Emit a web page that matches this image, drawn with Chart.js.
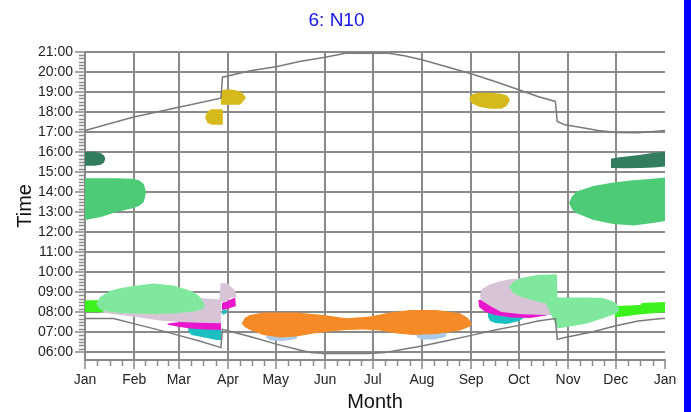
<!DOCTYPE html>
<html>
<head>
<meta charset="utf-8">
<script src="https://cdn.jsdelivr.net/npm/chart.js@4.4.0/dist/chart.umd.min.js"></script>
<style>
  html, body { margin: 0; padding: 0; background: #fff; }
  #wrap { position: relative; width: 691px; height: 412px; }
  #edge { position: absolute; right: 0; top: 0; width: 7px; height: 412px; background: #0000ff; }
</style>
</head>
<body>
<div id="wrap">
  <canvas id="chart" width="691" height="412"></canvas>
  <div id="edge"></div>
</div>
<script>
// Axis ticks (x = day of year, y = hour of day)
const monthStarts = [0, 31, 59, 90, 120, 151, 181, 212, 243, 273, 304, 334, 365];
const monthLabels = ['Jan', 'Feb', 'Mar', 'Apr', 'May', 'Jun', 'Jul', 'Aug', 'Sep', 'Oct', 'Nov', 'Dec', 'Jan'];
const hourTicks = [6, 7, 8, 9, 10, 11, 12, 13, 14, 15, 16, 17, 18, 19, 20, 21];
const hourLabels = ['06:00', '07:00', '08:00', '09:00', '10:00', '11:00', '12:00', '13:00',
                    '14:00', '15:00', '16:00', '17:00', '18:00', '19:00', '20:00', '21:00'];

// Sunset / sunrise curves
const sunsetDays = [0, 30, 59, 85.5, 86.5, 104, 121, 135, 151, 164, 191, 201, 212, 227, 243, 258, 273, 285, 296, 297.2, 302, 315, 323, 335, 348, 358, 365];
const sunsetTimes = [17.07, 17.73, 18.23, 18.68, 19.73, 20.05, 20.27, 20.52, 20.73, 20.93, 20.93, 20.8, 20.6, 20.27, 19.9, 19.52, 19.1, 18.77, 18.52, 17.52, 17.35, 17.18, 17.07, 16.97, 16.95, 17.02, 17.07];
const sunriseDays = [0, 18, 30, 45, 59, 72, 85.5, 86.5, 93, 106, 121, 135, 142, 151, 178, 189, 212, 227, 243, 258, 273, 285, 296, 297.2, 302, 319, 333.5, 348, 363, 365];
const sunriseTimes = [7.67, 7.67, 7.43, 7.13, 6.83, 6.55, 6.22, 7.13, 7.0, 6.72, 6.38, 6.1, 5.97, 5.93, 5.93, 5.97, 6.3, 6.55, 6.83, 7.1, 7.33, 7.55, 7.67, 6.63, 6.72, 7.0, 7.3, 7.55, 7.67, 7.67];

// Glare periods, each traced as an outline (days, times)
const yellowAprDays = [85.6, 88, 92, 95.5, 99, 101.3, 99, 97.5, 92, 88, 85.6];
const yellowAprTimes = [19.08, 19.12, 19.12, 19.07, 18.95, 18.7, 18.47, 18.35, 18.35, 18.35, 18.35];
const yellowMarDays = [75.6, 77, 79.7, 86.7, 86.7, 79.7, 77];
const yellowMarTimes = [17.72, 18.02, 18.13, 18.13, 17.35, 17.35, 17.45];
const yellowSepDays = [241.7, 243.5, 248, 255, 262, 265.5, 267.5, 265.5, 262, 255, 248, 243.5];
const yellowSepTimes = [18.68, 18.88, 18.95, 18.95, 18.9, 18.82, 18.6, 18.3, 18.15, 18.15, 18.25, 18.42];

const darkGreenJanDays = [0, 6, 10, 12, 12.8, 12, 10, 6, 0];
const darkGreenJanTimes = [16.0, 16.0, 15.93, 15.82, 15.65, 15.48, 15.35, 15.3, 15.3];
const darkGreenDecDays = [331, 335, 342, 350, 358, 365, 365, 358, 350, 340, 331];
const darkGreenDecTimes = [15.65, 15.72, 15.78, 15.86, 15.95, 16.0, 15.27, 15.22, 15.2, 15.18, 15.2];

const greenJanDays = [0, 10, 20, 30, 34, 37, 38.5, 37, 34, 30, 20, 10, 0];
const greenJanTimes = [14.68, 14.68, 14.68, 14.66, 14.58, 14.4, 14.0, 13.5, 13.3, 13.18, 13.0, 12.75, 12.6];
const greenDecDays = [304.6, 306.5, 309.4, 320, 332.5, 345, 357.5, 365, 365, 357.5, 345, 332.5, 320, 309.4, 306.5];
const greenDecTimes = [13.45, 13.78, 14.02, 14.3, 14.47, 14.58, 14.66, 14.72, 12.55, 12.45, 12.32, 12.4, 12.6, 12.93, 13.12];

const lightGreenJanDays = [7, 9.5, 15.7, 22, 30.4, 43, 55.6, 64, 68.2, 72.4, 74.4, 75.5, 74.4, 72.4, 68.2, 64, 55.6, 43, 30.4, 22, 15.7, 9.5];
const lightGreenJanTimes = [8.4, 8.75, 9.05, 9.18, 9.3, 9.42, 9.32, 9.12, 9.0, 8.75, 8.5, 8.3, 8.2, 8.1, 8.02, 7.98, 7.92, 7.9, 7.92, 7.95, 8.0, 8.12];
const brightGreenJanDays = [0, 11.5, 11.5, 0];
const brightGreenJanTimes = [8.58, 8.58, 7.98, 7.98];

const lilacSpringDays = [9.4, 22, 47, 72.4, 84.6, 85.3, 90, 91.3, 94.4, 95.5, 91.3, 89, 85.6, 85.6, 72, 60, 47, 34.6, 22, 9.4];
const lilacSpringTimes = [8.05, 8.6, 8.9, 8.7, 8.62, 9.45, 9.42, 9.3, 9.07, 8.75, 8.7, 8.5, 8.5, 7.44, 7.46, 7.5, 7.57, 7.72, 7.85, 7.98];
const magentaSpringDays = [52, 60, 72, 85.6, 85.6, 75, 66, 58, 52];
const magentaSpringTimes = [7.42, 7.5, 7.55, 7.55, 7.1, 7.12, 7.17, 7.28, 7.36];
const magentaAprDays = [86.2, 89.5, 94.5, 95, 89.5, 86.2];
const magentaAprTimes = [8.45, 8.55, 8.72, 8.3, 8.15, 8.1];
const cyanSpringDays = [65, 72, 85.6, 85.6, 83, 78, 72, 67, 65];
const cyanSpringTimes = [7.2, 7.2, 7.2, 6.6, 6.6, 6.68, 6.78, 6.85, 7.02];
const cyanAprDays = [86.5, 89.2, 89.2, 86.5];
const cyanAprTimes = [8.12, 8.12, 7.95, 7.85];

const lilacAutumnDays = [248.6, 250, 255, 262, 268, 280, 292, 297, 297, 290, 275, 262, 255, 249];
const lilacAutumnTimes = [8.85, 9.15, 9.38, 9.55, 9.65, 9.7, 9.7, 9.0, 7.85, 7.85, 7.88, 8.0, 8.3, 8.6];
const magentaAutumnDays = [247.5, 252, 262, 275, 290.5, 290.5, 280, 268, 258, 252, 248];
const magentaAutumnTimes = [8.6, 8.62, 8.3, 8.1, 7.95, 7.82, 7.7, 7.72, 7.85, 8.0, 8.25];
const cyanAutumnDays = [253.6, 276, 276, 273, 265.4, 258, 255, 253.6];
const cyanAutumnTimes = [7.95, 7.85, 7.7, 7.55, 7.4, 7.45, 7.55, 7.75];
const lightGreenAutumnDays = [266.8, 269.4, 273.8, 284.5, 297, 297.3, 305.2, 315.9, 326, 331.7, 334.8, 336, 336, 334.8, 331.7, 326, 315.9, 305.2, 297.4, 290, 284.5, 273.8, 269.4];
const lightGreenAutumnTimes = [9.25, 9.5, 9.68, 9.85, 9.88, 8.72, 8.72, 8.72, 8.7, 8.55, 8.4, 8.2, 8.05, 7.95, 7.85, 7.68, 7.43, 7.27, 7.18, 8.42, 8.52, 8.77, 8.95];
const brightGreenDecDays = [333.5, 349.3, 350.6, 365, 365, 350, 333.5];
const brightGreenDecTimes = [8.3, 8.35, 8.45, 8.5, 7.98, 7.88, 7.72];

const orangeDays = [98.6, 100.5, 103.8, 112.2, 133.2, 150, 164.7, 179.4, 192, 204.5, 221.3, 236, 241, 243.4, 242.3, 236, 221.3, 206.6, 196.2, 185.6, 175.1, 164.7, 154.2, 143.7, 133.2, 122.7, 112.2, 103.8, 100.5];
const orangeTimes = [7.43, 7.7, 7.85, 7.97, 7.97, 7.85, 7.68, 7.77, 7.97, 8.1, 8.1, 7.93, 7.7, 7.43, 7.27, 7.07, 6.9, 6.85, 6.93, 7.07, 7.13, 7.1, 7.02, 6.93, 6.77, 6.73, 6.85, 7.1, 7.25];
const paleBlueMayDays = [114, 134, 133, 125, 117, 114];
const paleBlueMayTimes = [6.9, 6.9, 6.65, 6.55, 6.58, 6.72];
const paleBlueAugDays = [208.7, 227.6, 227, 220, 212, 208.7];
const paleBlueAugTimes = [6.95, 6.95, 6.75, 6.62, 6.63, 6.75];

const gridColor = '#8a8a8a';
Chart.defaults.font.family = "'Liberation Sans', Arial, sans-serif";

function points(days, times) {
    return days.map((d, i) => ({ x: d, y: times[i] }));
}

function curve(days, times) {
    return { data: points(days, times), borderColor: '#7a7a7a', borderWidth: 1.5, fill: false, pointRadius: 0, tension: 0 };
}

function blob(days, times, color) {
    return { data: points(days, times), fill: 'shape', backgroundColor: color, borderWidth: 0, pointRadius: 0, tension: 0 };
}

// small ticks between the labelled ones
const minorTicks = {
    id: 'minorTicks',
    afterDraw(chart) {
        const { ctx, chartArea } = chart;
        const x = chart.scales.x;
        const y = chart.scales.y;
        ctx.save();
        ctx.strokeStyle = gridColor;
        ctx.lineWidth = 1.5;
        ctx.beginPath();
        for (let i = 0; i < hourTicks.length - 1; i++) {
            for (let m = 1; m < 6; m++) {
                const py = Math.round(y.getPixelForValue(hourTicks[i] + m / 6)) + 0.5;
                ctx.moveTo(chartArea.left - 6, py);
                ctx.lineTo(chartArea.left, py);
            }
        }
        for (let i = 0; i < monthStarts.length - 1; i++) {
            const a = monthStarts[i], b = monthStarts[i + 1];
            for (let q = 1; q < 4; q++) {
                const px = Math.round(x.getPixelForValue(a + (b - a) * q / 4)) + 0.5;
                ctx.moveTo(px, chartArea.bottom);
                ctx.lineTo(px, chartArea.bottom + 6);
            }
        }
        ctx.stroke();
        ctx.restore();
    }
};

new Chart(document.getElementById('chart'), {
    type: 'line',
    data: {
        datasets: [
            curve(sunsetDays, sunsetTimes),
            curve(sunriseDays, sunriseTimes),
            blob(yellowAprDays, yellowAprTimes, '#d6b91a'),
            blob(yellowMarDays, yellowMarTimes, '#d6b91a'),
            blob(yellowSepDays, yellowSepTimes, '#d6b91a'),
            blob(darkGreenJanDays, darkGreenJanTimes, '#337d5f'),
            blob(darkGreenDecDays, darkGreenDecTimes, '#337d5f'),
            blob(greenJanDays, greenJanTimes, '#4ecb76'),
            blob(greenDecDays, greenDecTimes, '#4ecb76'),
            blob(lightGreenAutumnDays, lightGreenAutumnTimes, '#80e89d'),
            blob(brightGreenDecDays, brightGreenDecTimes, '#3cf21c'),
            blob(lightGreenJanDays, lightGreenJanTimes, '#80e89d'),
            blob(brightGreenJanDays, brightGreenJanTimes, '#3cf21c'),
            blob(lilacSpringDays, lilacSpringTimes, '#d7c5d7'),
            blob(lilacAutumnDays, lilacAutumnTimes, '#d7c5d7'),
            blob(magentaSpringDays, magentaSpringTimes, '#e916cd'),
            blob(magentaAutumnDays, magentaAutumnTimes, '#e916cd'),
            blob(magentaAprDays, magentaAprTimes, '#e916cd'),
            blob(cyanSpringDays, cyanSpringTimes, '#1bbfc2'),
            blob(cyanAutumnDays, cyanAutumnTimes, '#1bbfc2'),
            blob(cyanAprDays, cyanAprTimes, '#1bbfc2'),
            blob(orangeDays, orangeTimes, '#f58a27'),
            blob(paleBlueMayDays, paleBlueMayTimes, '#abcaea'),
            blob(paleBlueAugDays, paleBlueAugTimes, '#abcaea')
        ]
    },
    options: {
        responsive: false,
        animation: false,
        layout: { padding: { left: 8, right: 26, top: 0, bottom: 0 } },
        plugins: {
            legend: { display: false },
            tooltip: { enabled: false },
            title: {
                display: true,
                text: '6: N10',
                color: '#1414e8',
                font: { size: 19, weight: 'normal' },
                padding: { top: 9, bottom: 20 }
            }
        },
        scales: {
            x: {
                type: 'linear',
                min: 0,
                max: 365,
                z: 1,
                afterBuildTicks: axis => { axis.ticks = monthStarts.map(v => ({ value: v })); },
                afterFit: axis => { axis.height = 52; },
                ticks: {
                    autoSkip: false,
                    maxRotation: 0,
                    padding: 3,
                    color: '#222',
                    font: { size: 14 },
                    callback: (value, index) => monthLabels[index]
                },
                grid: {
                    color: ctx => ctx.index === monthStarts.length - 1 ? 'rgba(0,0,0,0)' : gridColor,
                    lineWidth: 2,
                    tickLength: 9,
                    tickColor: gridColor,
                    tickWidth: 1.5
                },
                border: { display: true, color: gridColor, width: 2 },
                title: {
                    display: true,
                    text: 'Month',
                    color: '#111',
                    font: { size: 20, lineHeight: 1 },
                    padding: { top: 0, bottom: 0 }
                }
            },
            y: {
                type: 'linear',
                min: 5.6,
                max: 21,
                z: 1,
                afterBuildTicks: axis => { axis.ticks = hourTicks.map(v => ({ value: v })); },
                afterFit: axis => { axis.width = 77; },
                ticks: {
                    padding: 2,
                    color: '#222',
                    font: { size: 14 },
                    callback: (value, index) => hourLabels[index]
                },
                grid: {
                    color: gridColor,
                    lineWidth: 2,
                    tickLength: 10,
                    tickColor: gridColor,
                    tickWidth: 1.5
                },
                border: { display: true, color: gridColor, width: 2 },
                title: {
                    display: true,
                    text: 'Time',
                    color: '#111',
                    font: { size: 20 },
                    padding: { top: 5, bottom: 0 }
                }
            }
        }
    },
    plugins: [minorTicks]
});
</script>
</body>
</html>
